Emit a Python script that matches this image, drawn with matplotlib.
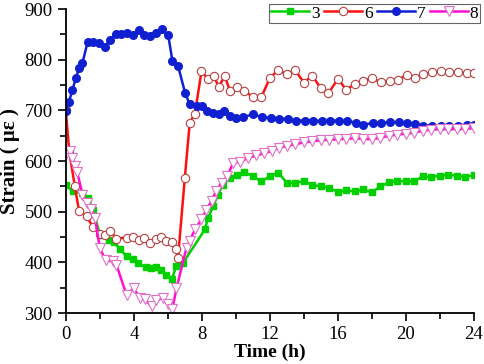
import numpy as np
import matplotlib
matplotlib.use("Agg")
import matplotlib.pyplot as plt
from matplotlib.ticker import MultipleLocator

plt.rcParams['font.family'] = ['Liberation Serif', 'DejaVu Serif']

# sensor 3
t3 = [0, 0.43, 0.98, 1.31, 1.61, 2.0, 2.55, 2.85, 3.18, 3.57, 3.96, 4.25, 4.71, 5.0, 5.33,
      5.6, 5.88, 6.24, 6.51, 6.9, 8.18, 8.37, 8.67, 8.96, 9.22, 9.65, 10.04, 10.5, 11.0,
      11.5, 12.0, 12.5, 13.0, 13.5, 14.0, 14.5, 15.0, 15.5, 16.0, 16.5, 17.0, 17.5, 18.0,
      18.5, 19.0, 19.5, 20.0, 20.5, 21.0, 21.5, 22.0, 22.5, 23.0, 23.5, 24.0]
s3 = [553, 540, 537, 527, 504, 455, 445, 440, 426, 412, 407, 398, 390, 388, 391,
      385, 376, 368, 393, 399, 465, 488, 511, 534, 553, 567, 573, 578, 570,
      560, 570, 577, 557, 557, 560, 553, 550, 547, 539, 542, 540, 544, 538,
      550, 558, 560, 560, 560, 570, 569, 571, 573, 571, 569, 572]

# sensor 6
t6 = [0, 0.2, 0.53, 0.78, 1.22, 1.6, 2.0, 2.3, 2.59, 2.98, 3.57, 3.96, 4.31, 4.59, 4.98,
      5.29, 5.59, 5.92, 6.22, 6.47, 6.6, 7.0, 7.29, 7.59, 7.98, 8.37, 8.7, 9.0, 9.35,
      9.65, 10.04, 10.47, 11.0, 11.5, 12.0, 12.5, 13.0, 13.5, 14.0, 14.5, 15.0, 15.45,
      16.0, 16.5, 17.0, 17.5, 18.0, 18.55, 19.06, 19.55, 20.04, 20.53, 21.02, 21.53,
      22.04, 22.55, 23.06, 23.57, 24.0]
s6 = [700, 619, 550, 501, 491, 470, 456, 455, 462, 447, 449, 451, 444, 449, 439,
      447, 451, 443, 441, 427, 409, 567, 676, 693, 777, 762, 767, 747, 768,
      739, 746, 739, 727, 726, 764, 780, 771, 779, 755, 768, 744, 734,
      762, 741, 752, 759, 763, 756, 759, 760, 770, 763, 772, 775,
      777, 775, 775, 773, 773]

# sensor 7
t7 = [0, 0.18, 0.39, 0.59, 0.78, 0.98, 1.29, 1.6, 1.96, 2.29, 2.59, 2.94, 3.27, 3.6,
      3.96, 4.31, 4.61, 4.98, 5.29, 5.65, 6.02, 6.27, 6.6, 7.02, 7.29, 7.69, 8.0, 8.31,
      8.67, 9.02, 9.29, 9.65, 10.0, 10.43, 11.02, 11.53, 12.04, 12.55, 13.06, 13.53,
      14.04, 14.55, 15.06, 15.53, 16.04, 16.55, 17.06, 17.49, 18.04, 18.55, 19.06,
      19.57, 20.04, 20.53, 21.02, 21.53, 22.04, 22.55, 23.06, 23.57, 24.0]
s7 = [699, 717, 740, 764, 783, 794, 836, 836, 834, 826, 839, 850, 851, 853,
      849, 859, 849, 847, 853, 860, 849, 798, 788, 734, 712, 709, 709, 698,
      695, 693, 698, 689, 685, 687, 692, 687, 685, 684, 683, 680,
      680, 680, 679, 680, 680, 679, 676, 672, 675, 675, 677,
      677, 675, 673, 670, 670, 670, 670, 670, 672, 672]

# sensor 8
t8 = [0, 0.24, 0.39, 0.55, 0.67, 0.98, 1.25, 1.51, 1.71, 2.0, 2.35, 2.75, 2.98, 3.57,
      4.0, 4.35, 4.65, 5.04, 5.33, 5.72, 6.02, 6.27, 6.51, 7.1, 7.29, 7.59, 7.98, 8.27,
      8.57, 8.82, 9.16, 9.49, 9.84, 10.24, 10.73, 11.2, 11.65, 12.1, 12.55, 13.0, 13.5,
      14.0, 14.5, 15.0, 15.5, 16.0, 16.5, 17.0, 17.5, 18.0, 18.5, 19.0, 19.5, 20.0,
      20.5, 21.0, 21.5, 22.0, 22.5, 23.0, 23.5, 24.0]
s8 = [613, 619, 606, 591, 578, 534, 518, 506, 488, 428, 404, 402, 395, 336,
      349, 329, 327, 313, 325, 330, 318, 308, 349, 429, 442, 465, 485, 504,
      521, 540, 557, 570, 596, 599, 606, 611, 615, 620, 626, 630, 633,
      637, 639, 641, 642, 643, 644, 645, 644, 643, 646, 650, 652, 654,
      656, 660, 662, 663, 663, 663, 664, 665]

fig = plt.figure(figsize=(4.84, 3.64), dpi=100)
ax = fig.add_axes([0.136, 0.14, 0.843, 0.835])

ax.plot(t3, s3, '-s', color='#00d000', lw=1.8, ms=5, mfc='#00d000', mec='#00d000', label='3')
ax.plot(t6, s6, '-o', color='#ff1010', lw=1.8, ms=6, mfc='white', mec='#b84040', mew=0.8, label='6')
ax.plot(t7, s7, '-o', color='#1020d0', lw=1.8, ms=5.5, mfc='#1020d0', mec='#1020d0', label='7')
ax.plot(t8, s8, '-v', color='#ff10d0', lw=1.8, ms=6.5, mfc='white', mec='#e070c8', mew=0.8, label='8')

ax.set_xlim(0, 24)
ax.set_ylim(300, 900)
ax.xaxis.set_major_locator(MultipleLocator(4))
ax.xaxis.set_minor_locator(MultipleLocator(2))
ax.yaxis.set_major_locator(MultipleLocator(100))
ax.yaxis.set_minor_locator(MultipleLocator(50))
ax.spines['top'].set_visible(False)
ax.spines['right'].set_visible(False)
ax.spines['left'].set_linewidth(1.3)
ax.spines['bottom'].set_linewidth(1.3)
ax.tick_params(which='major', direction='out', length=6, width=1.2, labelsize=13.5)
ax.tick_params(which='minor', direction='out', length=4, width=1.2)

ax.set_xlabel('Time (h)', fontsize=14, fontweight='bold', labelpad=0)
ax.set_ylabel('Strain ( με )', fontsize=15, fontweight='bold', labelpad=3)

leg = ax.legend(loc='upper right', bbox_to_anchor=(1.015, 1.018), ncol=4, fontsize=12.5,
                frameon=True, fancybox=False, edgecolor='#404040', handlelength=2.2,
                handletextpad=0.1, columnspacing=0.25, borderpad=0.1, borderaxespad=0.0)
leg.get_frame().set_linewidth(0.8)

fig.savefig('out.png', dpi=100)
